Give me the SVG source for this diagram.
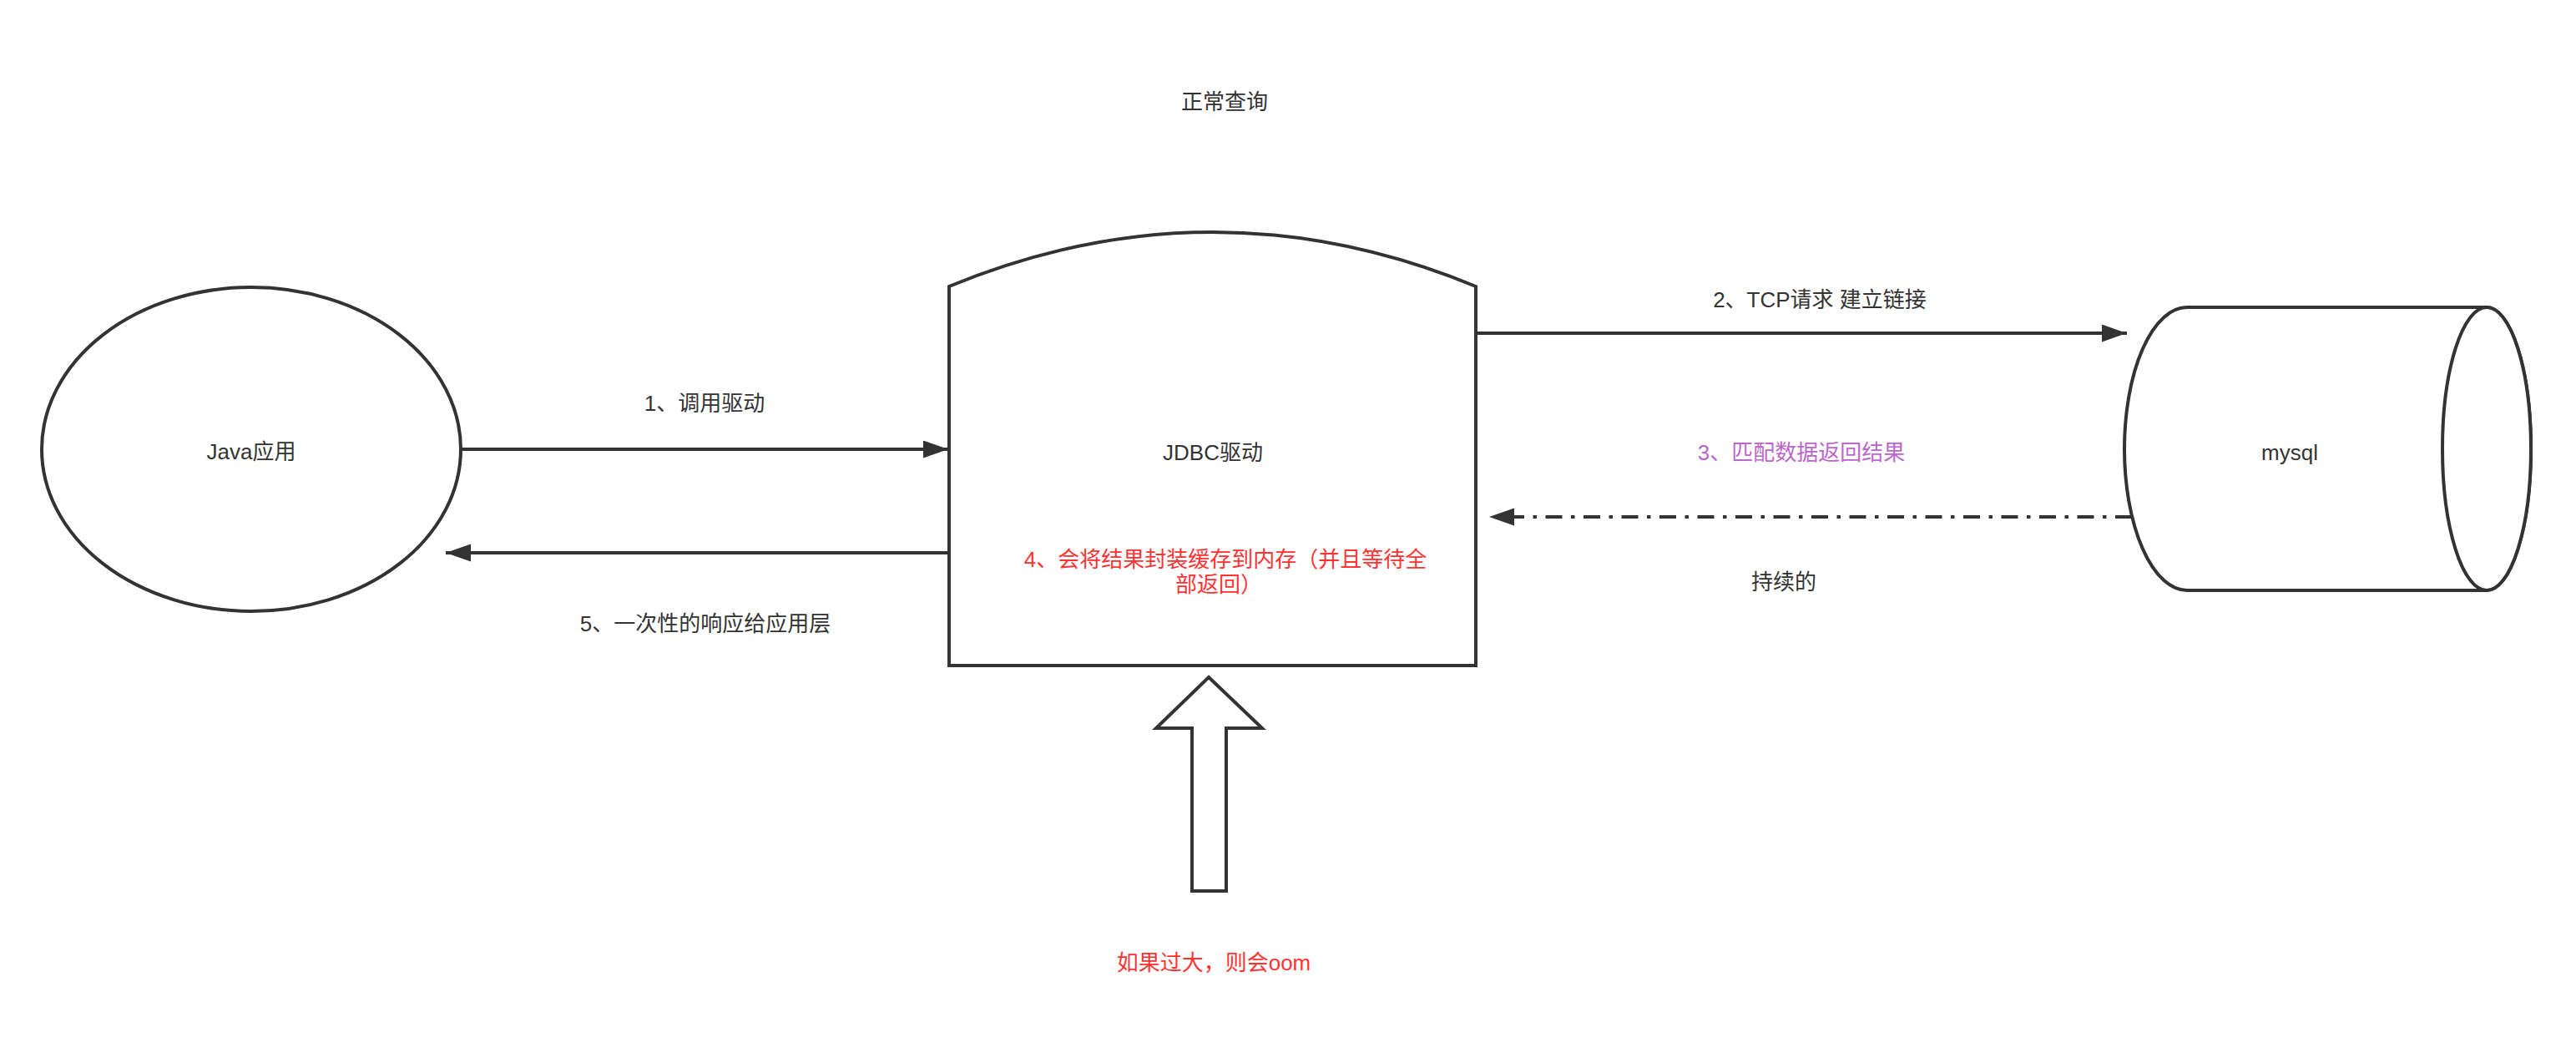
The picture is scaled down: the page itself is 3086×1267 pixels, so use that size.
<svg xmlns="http://www.w3.org/2000/svg" width="3086" height="1267" viewBox="0 0 3086 1267">
<style>
.shape{fill:#ffffff;stroke:#333333;stroke-width:4}
.edge{fill:none;stroke:#333333;stroke-width:4}
.dash{stroke-dasharray:20 10.5 4.5 10.5}
text{font-family:"Liberation Sans","Noto Sans CJK SC",sans-serif;font-size:26px;text-anchor:middle;dominant-baseline:central;fill:#333333}
.red{fill:#FF3333}
.purple{fill:#BB66CC}
</style>
<defs>
<marker id="arr" viewBox="0 0 30 21" markerWidth="30" markerHeight="21" refX="30" refY="10.5" orient="auto" markerUnits="userSpaceOnUse">
<path d="M0,0 L30,10.5 L0,21 Z" fill="#333333"/>
</marker>
</defs>
<rect width="3086" height="1267" fill="#ffffff"/>
<text x="1467" y="122">正常查询</text>
<g id="java-app">
<ellipse class="shape" cx="301" cy="538" rx="251" ry="194"/>
<text x="301" y="541">Java应用</text>
</g>
<g id="jdbc-driver">
<path class="shape" d="M1137,343 Q1452.5,213 1768,343 L1768,797 L1137,797 Z"/>
<text x="1453" y="542">JDBC驱动</text>
<text class="red" x="1468" y="670">4、会将结果封装缓存到内存（并且等待全</text>
<text class="red" x="1460" y="700">部返回）</text>
</g>
<g id="mysql">
<path class="shape" d="M2620,368 L2979,368 A53,169.5 0 0 1 2979,707 L2620,707 A75,169.5 0 0 1 2620,368 Z"/>
<ellipse class="shape" cx="2979" cy="537.5" rx="53" ry="169.5"/>
<text x="2743" y="542">mysql</text>
</g>
<g id="oom-arrow">
<polygon class="shape" points="1448,811 1512,872 1469,872 1469,1067 1428,1067 1428,872 1385,872"/>
<text class="red" x="1454" y="1153">如果过大，则会oom</text>
</g>
<g id="connectors">
<line class="edge" x1="552" y1="538" x2="1136" y2="538" marker-end="url(#arr)"/>
<line class="edge" x1="1137" y1="662" x2="534" y2="662" marker-end="url(#arr)"/>
<line class="edge" x1="1768" y1="399" x2="2548" y2="399" marker-end="url(#arr)"/>
<line class="edge dash" x1="2554" y1="619" x2="1784" y2="619" marker-end="url(#arr)"/>
<text x="844" y="483">1、调用驱动</text>
<text x="845" y="747">5、一次性的响应给应用层</text>
<text x="2180" y="359">2、TCP请求 建立链接</text>
<text class="purple" x="2158" y="542">3、匹配数据返回结果</text>
<text x="2137" y="697">持续的</text>
</g>
</svg>
